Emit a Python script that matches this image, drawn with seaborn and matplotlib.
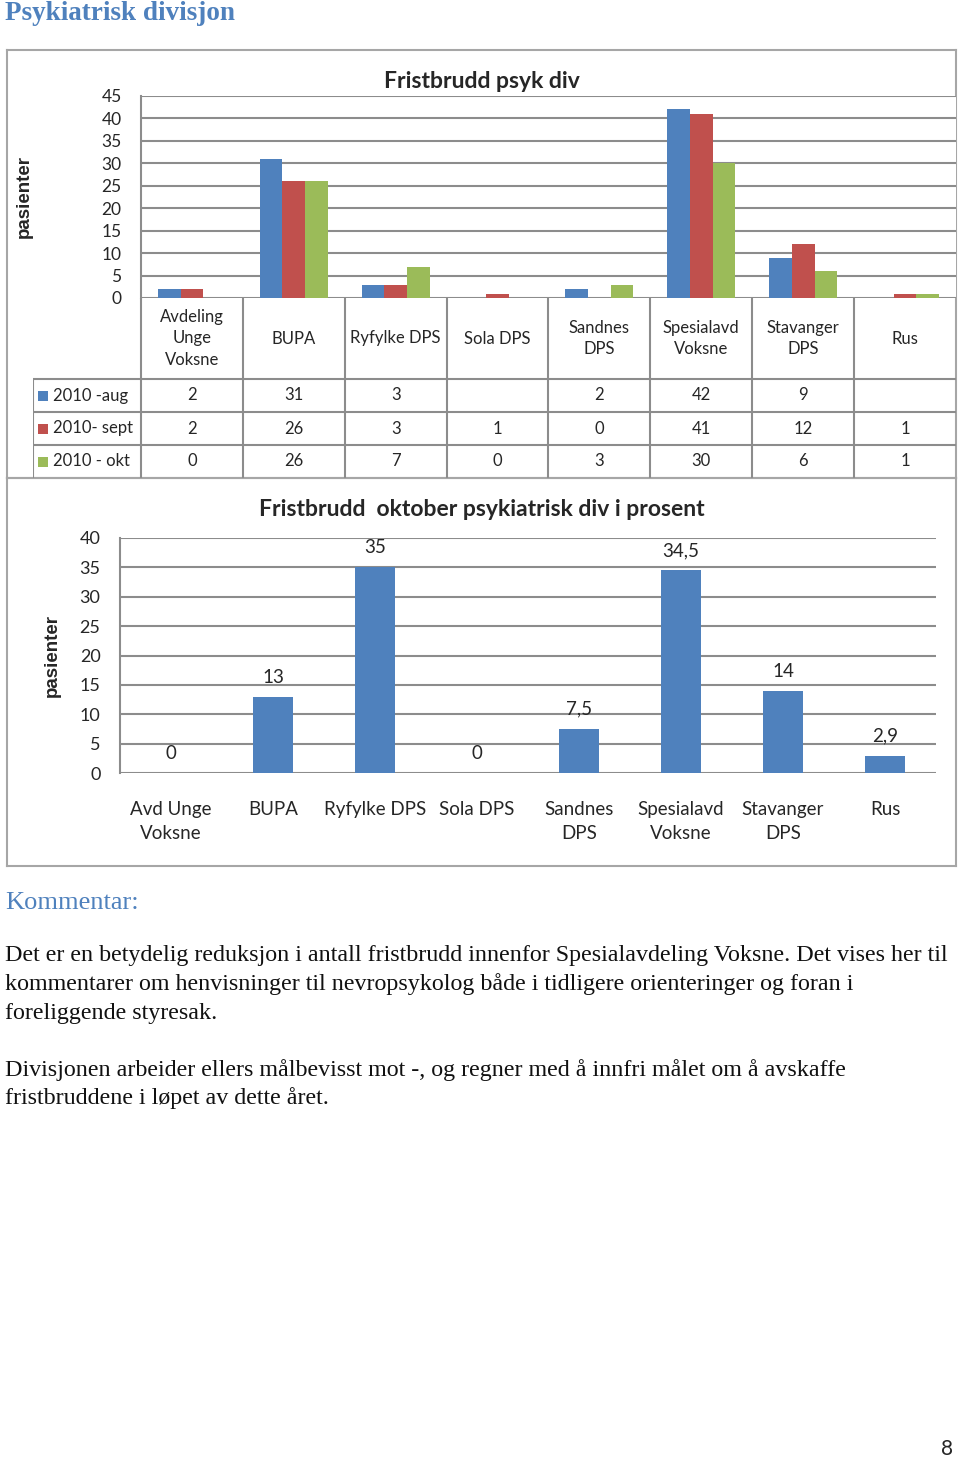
import numpy as np
import pandas as pd
import matplotlib
matplotlib.use("Agg")
import matplotlib.pyplot as plt
import seaborn as sns

# --- data ---
units = ["Avdeling\nUnge\nVoksne", "BUPA", "Ryfylke DPS", "Sola DPS",
         "Sandnes\nDPS", "Spesialavd\nVoksne", "Stavanger\nDPS", "Rus"]
periods = ["2010 -aug", "2010- sept", "2010 - okt"]
aug = [2, 31, 3, np.nan, 2, 42, 9, np.nan]
sept = [2, 26, 3, 1, 0, 41, 12, 1]
okt = [0, 26, 7, 0, 3, 30, 6, 1]

pct_units = ["Avd Unge\nVoksne", "BUPA", "Ryfylke DPS", "Sola DPS",
             "Sandnes\nDPS", "Spesialavd\nVoksne", "Stavanger\nDPS", "Rus"]
pct_okt = [0, 13, 35, 0, 7.5, 34.5, 14, 2.9]

comment_lines = [
    "Det er en betydelig reduksjon i antall fristbrudd innenfor Spesialavdeling Voksne. Det vises her til",
    "kommentarer om henvisninger til nevropsykolog både i tidligere orienteringer og foran i",
    "foreliggende styresak.",
    "",
    "Divisjonen arbeider ellers målbevisst mot -, og regner med å innfri målet om å avskaffe",
    "fristbruddene i løpet av dette året.",
]

colors = ["#4F81BD", "#C0504D", "#9BBB59"]
grid_c = "#8c8c8c"
box_c = "#a6a6a6"
title_blue = "#4F81BD"

sns.set_style("white")
plt.rcParams["font.family"] = ["Lato", "DejaVu Sans"]

W, H = 960, 1458
fig = plt.figure(figsize=(W / 100, H / 100), dpi=100)


def px_axes(left, top, right, bottom, **kw):
    return fig.add_axes([left / W, 1 - bottom / H, (right - left) / W, (bottom - top) / H], **kw)


def px_text(x, y, s, **kw):
    return fig.text(x / W, 1 - y / H, s, **kw)


# frames round the two charts
for top, bottom in [(50, 478), (478, 866)]:
    b = px_axes(7, top, 956, bottom)
    b.set_xticks([])
    b.set_yticks([])
    b.patch.set_alpha(0)
    for s in b.spines.values():
        s.set_color(box_c)
        s.set_linewidth(1.5)

px_text(5, 14, "Psykiatrisk divisjon", family="Liberation Serif", fontsize=19.5,
        fontweight="bold", color=title_blue, va="center")

# --- chart 1: grouped bars with data table ---
df = pd.DataFrame({
    "unit": units * 3,
    "period": np.repeat(periods, len(units)),
    "value": aug + sept + okt,
})
ax1 = px_axes(141, 96, 956, 298)
sns.barplot(data=df.fillna(0), x="unit", y="value", hue="period", order=units,
            hue_order=periods, palette=colors, width=0.667, errorbar=None,
            saturation=1, linewidth=0, legend=False, ax=ax1)
ax1.set_ylim(0, 45)
ax1.set_xlim(-0.5, len(units) - 0.5)
ax1.set_yticks(range(0, 46, 5))
ax1.set_xticks([])
ax1.set_xlabel("")
ax1.set_ylabel("pasienter", family="Liberation Sans", fontweight="bold", fontsize=13.5)
ax1.yaxis.set_label_coords(-0.1325, 0.5)
ax1.tick_params(axis="y", length=0, pad=14, labelsize=12.5)
ax1.yaxis.grid(True, color=grid_c, lw=1.5)
ax1.set_axisbelow(True)
for s in ["top", "right", "bottom"]:
    ax1.spines[s].set_visible(False)
ax1.spines["left"].set_color(grid_c)
ax1.spines["left"].set_linewidth(1.5)
px_text(482, 81, "Fristbrudd psyk div", fontsize=16.5, fontweight="bold",
        ha="center", va="center")

# data table under chart 1
tab = px_axes(33, 298, 956, 478)
x0 = -0.5 - 108 / 102
tab.set_xlim(x0, len(units) - 0.5)
tab.set_ylim(180, 0)
tab.axis("off")
row_edges = [0, 81, 114, 147, 180]
tab.vlines(np.arange(len(units)) - 0.5, 0, 180, color=grid_c, lw=1.5)
tab.vlines(x0, 81, 180, color=grid_c, lw=1.5)
tab.hlines(row_edges[1:4], x0, len(units) - 0.5, color=grid_c, lw=1.5)
for i, u in enumerate(units):
    tab.text(i, 40.5, u, ha="center", va="center", fontsize=12, linespacing=1.45)
for r, (p, vals, c) in enumerate(zip(periods, [aug, sept, okt], colors)):
    yc = (row_edges[r + 1] + row_edges[r + 2]) / 2
    tab.plot(x0 + 0.103, yc, marker="s", ms=7.5, color=c, mew=0)
    tab.text(x0 + 0.196, yc, p, ha="left", va="center", fontsize=12)
    for i, v in enumerate(vals):
        if not np.isnan(v):
            tab.text(i, yc, f"{v:g}", ha="center", va="center", fontsize=12)

# --- chart 2: October percentages ---
ax2 = px_axes(120, 538, 936, 773)
sns.barplot(x=pct_units, y=pct_okt, color=colors[0], width=0.39, saturation=1,
            linewidth=0, errorbar=None, ax=ax2)
ax2.set_ylim(0, 40)
ax2.set_xlim(-0.5, len(pct_units) - 0.5)
ax2.set_yticks(range(0, 41, 5))
ax2.tick_params(axis="y", length=0, pad=14, labelsize=13)
ax2.tick_params(axis="x", length=0, pad=20, labelsize=13.5)
for lbl in ax2.get_xticklabels():
    lbl.set_linespacing(1.5)
    lbl.set_va("top")
ax2.bar_label(ax2.containers[0], labels=[f"{v:g}".replace(".", ",") for v in pct_okt],
              padding=8, fontsize=13.5)
ax2.set_ylabel("pasienter", family="Liberation Sans", fontweight="bold", fontsize=13.5)
ax2.yaxis.set_label_coords(-0.072, 0.5)
ax2.yaxis.grid(True, color=grid_c, lw=1.5)
ax2.set_axisbelow(True)
for s in ["top", "right", "bottom"]:
    ax2.spines[s].set_visible(False)
ax2.spines["left"].set_color(grid_c)
ax2.spines["left"].set_linewidth(1.5)
px_text(482, 509, "Fristbrudd  oktober psykiatrisk div i prosent", fontsize=16.5,
        fontweight="bold", ha="center", va="center")

# --- comment text ---
px_text(5, 903, "Kommentar:", family="Liberation Serif", fontsize=19,
        color=title_blue, va="center")
for k, line in enumerate(comment_lines):
    if line:
        px_text(5, 956 + k * 28.5, line, family="Liberation Serif", fontsize=17.3,
                color="#111111", va="center")

px_text(953, 1449, "8", fontsize=15, ha="right", va="center")

fig.savefig("out.png", dpi=100)
